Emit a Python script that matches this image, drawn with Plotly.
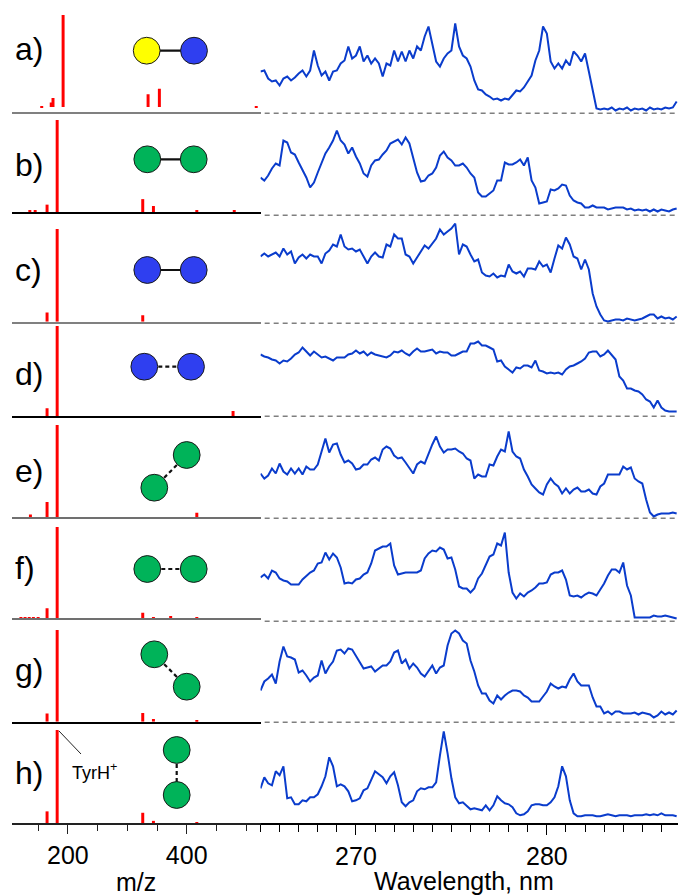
import numpy as np
import plotly.graph_objects as go

# ---------------- data ----------------
panel_labels = ["a)", "b)", "c)", "d)", "e)", "f)", "g)", "h)"]

# mass spectra: m/z and relative intensity (%)
mz_a = [156, 172, 175, 192, 335, 354, 517]
ms_a = [1, 5, 10, 100, 14, 20, 1]
mz_b = [136, 145, 165, 182, 326, 344, 417, 480]
ms_b = [2, 2, 8, 100, 14, 6.5, 2, 2]
mz_c = [165, 182, 326]
ms_c = [10, 100, 7]
mz_d = [165, 182, 478]
ms_d = [9, 100, 6]
mz_e = [137, 165, 182, 417]
ms_e = [3, 16.5, 100, 5]
mz_f = [121, 128, 135, 142, 150, 165, 182, 326, 344, 373, 417]
ms_f = [1.5, 1, 1.5, 1, 1.5, 11, 100, 6, 1, 2.5, 1.5]
mz_g = [165, 182, 326, 344, 417]
ms_g = [9, 100, 9.5, 3, 1.5]
mz_h = [165, 182, 326, 344, 417]
ms_h = [12.5, 100, 11, 2.3, 0.6]

# UV photofragmentation spectra sampled every 0.2 nm (arb. units)
wavelength = np.round(np.arange(265.0, 286.85, 0.2), 1)

uv_a = [42, 43, 35, 32, 33, 28, 35, 37, 33, 36,
        40, 43, 37, 43, 63, 48, 38, 42, 33, 42,
        43, 50, 53, 67, 55, 58, 67, 52, 58, 50,
        55, 50, 37, 50, 48, 63, 52, 62, 52, 63,
        55, 67, 63, 77, 87, 70, 52, 47, 55, 60,
        63, 90, 67, 58, 55, 47, 33, 24, 23, 19,
        17, 14, 15, 13, 15, 14, 18, 23, 22, 26,
        32, 38, 53, 63, 87, 80, 52, 45, 50, 45,
        53, 48, 62, 58, 52, 60, 42, 22, 5, 4,
        5, 4, 6, 3, 5, 4, 6, 3, 5, 4,
        5, 3, 6, 4, 5, 4, 6, 5, 6, 12]
uv_b = [38, 35, 40, 47, 52, 50, 75, 73, 63, 61,
        53, 45, 38, 28, 33, 43, 52, 62, 68, 75,
        85, 75, 71, 62, 68, 59, 52, 42, 39, 50,
        55, 56, 61, 65, 72, 74, 76, 71, 78, 72,
        58, 43, 34, 35, 40, 42, 48, 60, 64, 58,
        55, 50, 50, 52, 48, 42, 38, 23, 19, 19,
        22, 25, 35, 35, 53, 51, 51, 53, 56, 50,
        58, 35, 28, 12, 13, 14, 26, 25, 27, 31,
        30, 20, 15, 13, 12, 8, 8, 10, 8, 8,
        8, 6, 7, 8, 8, 8, 6, 7, 5, 6,
        5, 6, 4, 6, 4, 6, 5, 4, 6, 7]
uv_c = [67, 70, 67, 69, 71, 67, 75, 69, 72, 60,
        66, 69, 65, 69, 67, 67, 60, 70, 73, 79,
        77, 89, 77, 74, 75, 72, 74, 67, 60, 67,
        71, 67, 66, 79, 77, 89, 85, 85, 69, 67,
        60, 66, 72, 78, 75, 80, 85, 94, 89, 92,
        95, 100, 69, 79, 77, 69, 62, 64, 51, 48,
        47, 50, 46, 48, 47, 59, 52, 50, 52, 47,
        55, 55, 54, 62, 57, 59, 51, 65, 78, 75,
        86, 79, 67, 65, 54, 64, 54, 30, 17, 9,
        3, 2, 3, 4, 4, 3, 5, 4, 3, 4,
        5, 7, 9, 9, 5, 7, 5, 6, 4, 7]
uv_d = [62, 60, 59, 57, 56, 53, 56, 55, 58, 62,
        64, 69, 65, 61, 65, 62, 59, 60, 58, 56,
        59, 59, 59, 62, 63, 66, 63, 65, 61, 64,
        62, 61, 60, 59, 61, 65, 64, 66, 63, 61,
        65, 68, 65, 65, 66, 67, 63, 65, 64, 64,
        61, 61, 63, 65, 65, 73, 73, 75, 71, 71,
        69, 67, 55, 56, 50, 47, 44, 49, 48, 51,
        51, 49, 56, 46, 45, 43, 44, 43, 44, 42,
        47, 50, 51, 53, 55, 58, 64, 65, 65, 60,
        62, 66, 62, 57, 40, 36, 28, 28, 26, 25,
        22, 17, 15, 9, 16, 9, 6, 5, 5, 5]
uv_e = [45, 40, 43, 50, 45, 55, 47, 44, 50, 45,
        50, 44, 52, 49, 49, 54, 67, 80, 66, 74,
        75, 64, 56, 58, 55, 49, 50, 54, 54, 59,
        61, 58, 69, 72, 70, 63, 60, 61, 56, 51,
        45, 54, 57, 55, 65, 74, 82, 72, 66, 69,
        69, 70, 67, 65, 60, 58, 40, 44, 42, 42,
        54, 53, 62, 69, 67, 87, 67, 62, 60, 49,
        42, 34, 30, 26, 24, 34, 40, 35, 32, 25,
        30, 25, 29, 31, 27, 27, 29, 25, 24, 32,
        35, 44, 44, 44, 44, 52, 49, 51, 40, 37,
        35, 19, 6, 2, 4, 5, 5, 5, 6, 5]
uv_f = [44, 47, 43, 51, 49, 43, 41, 40, 37, 37,
        37, 42, 46, 49, 51, 58, 59, 69, 62, 68,
        64, 54, 38, 39, 38, 42, 43, 47, 49, 58,
        71, 73, 75, 75, 78, 56, 47, 48, 49, 49,
        49, 49, 51, 63, 68, 71, 70, 74, 72, 63,
        64, 52, 35, 33, 33, 29, 33, 43, 48, 57,
        65, 67, 78, 76, 89, 49, 29, 23, 28, 25,
        29, 31, 34, 38, 38, 39, 47, 49, 49, 51,
        42, 26, 25, 26, 24, 27, 29, 28, 26, 32,
        38, 46, 52, 52, 49, 59, 36, 26, 4, 4,
        4, 4, 4, 6, 5, 5, 6, 5, 4, 3]
uv_g = [32, 41, 44, 48, 39, 61, 76, 66, 65, 63,
        50, 52, 47, 41, 45, 47, 62, 49, 56, 61,
        72, 73, 69, 74, 73, 67, 61, 54, 55, 56,
        51, 54, 57, 57, 61, 70, 72, 59, 63, 54,
        59, 55, 49, 46, 52, 57, 49, 55, 57, 77,
        89, 92, 89, 82, 79, 62, 51, 37, 29, 29,
        22, 19, 27, 23, 27, 30, 32, 32, 31, 27,
        25, 21, 21, 21, 26, 31, 39, 36, 34, 36,
        35, 43, 49, 41, 37, 37, 37, 25, 16, 16,
        9, 11, 8, 11, 11, 9, 9, 9, 10, 8,
        10, 9, 8, 5, 7, 11, 8, 10, 8, 12]
uv_h = [35, 46, 40, 38, 52, 48, 57, 25, 26, 19,
        19, 23, 22, 26, 26, 29, 37, 47, 66, 57,
        37, 39, 37, 32, 22, 23, 25, 33, 35, 43,
        52, 49, 46, 40, 47, 51, 38, 21, 17, 21,
        23, 32, 35, 34, 36, 36, 41, 68, 92, 70,
        45, 26, 20, 21, 17, 14, 15, 14, 13, 18,
        13, 18, 27, 23, 20, 19, 16, 10, 8, 9,
        12, 18, 19, 19, 18, 18, 21, 26, 37, 57,
        47, 23, 10, 7, 7, 8, 8, 8, 7, 7,
        8, 9, 8, 7, 8, 8, 8, 7, 8, 8,
        8, 9, 8, 9, 8, 10, 8, 8, 8, 7]

mass_spectra = [(mz_a, ms_a), (mz_b, ms_b), (mz_c, ms_c), (mz_d, ms_d),
                (mz_e, ms_e), (mz_f, ms_f), (mz_g, ms_g), (mz_h, ms_h)]
uv_spectra = [uv_a, uv_b, uv_c, uv_d, uv_e, uv_f, uv_g, uv_h]

# ---------------- page geometry (pixels) ----------------
W, H = 678, 896


def fx(px):
    return px / W


def fy(py):
    return 1 - py / H


FONT = "Arial, Liberation Sans, sans-serif"
RED = "#ff0000"
BLUE_LINE = "#0a3ccc"

ms_base = [111.7, 212, 321.7, 416.3, 517.3, 618.3, 721.7, 823]
ms_top = [15, 120, 229, 326, 425, 527, 630, 730]
ms_ymin = [-5, 0, 0, 0, 0, 0, 0, 0]
ms_line = [("#808080", 2), ("#000000", 1.5), ("#808080", 2), ("#000000", 1.5),
           ("#707070", 2), ("#707070", 2), ("#000000", 1.5), ("#222222", 1.5)]
uv_base = [113.5, 215.5, 323.5, 416.5, 518.5, 621.5, 722.5, 823.3]
UV_H = 105

label_y = [49, 165, 270, 374, 471, 568, 670, 773]

fig = go.Figure()
layout = dict(
    width=W, height=H, margin=dict(l=0, r=0, t=0, b=0),
    paper_bgcolor="white", plot_bgcolor="rgba(0,0,0,0)",
    showlegend=False, font=dict(family=FONT, color="black"),
)

for i in range(8):
    n_ms = i + 1
    n_uv = i + 9
    mz, inten = mass_spectra[i]
    fig.add_trace(go.Bar(
        x=mz, y=inten, width=5, marker=dict(color=RED, line=dict(width=0)),
        xaxis=f"x{n_ms}", yaxis=f"y{n_ms}", hoverinfo="skip"))
    fig.add_trace(go.Scatter(
        x=wavelength, y=uv_spectra[i], mode="lines",
        line=dict(color=BLUE_LINE, width=2),
        xaxis=f"x{n_uv}", yaxis=f"y{n_uv}", hoverinfo="skip"))

    last = (i == 7)
    lc, lw = ms_line[i]
    xa = dict(domain=[fx(12), fx(261)], range=[106, 525], anchor=f"y{n_ms}",
              showline=True, linecolor=lc, linewidth=lw, showgrid=False,
              zeroline=False, showticklabels=False, ticks="", fixedrange=True)
    if last:
        xa.update(showticklabels=True, ticks="outside", tickvals=[200, 400],
                  ticklen=9, tickwidth=1.3, tickcolor="#222",
                  tickfont=dict(size=25, family=FONT, color="black"),
                  minor=dict(tickvals=[150, 250, 300, 350, 450, 500],
                             ticks="outside", ticklen=6, tickwidth=1.3,
                             tickcolor="#222"))
    ya = dict(domain=[fy(ms_base[i]), fy(ms_top[i])], range=[ms_ymin[i], 100],
              anchor=f"x{n_ms}", visible=False, fixedrange=True)

    xb = dict(domain=[fx(260.5), 1.0], range=[265, 286.87], anchor=f"y{n_uv}",
              showgrid=False, zeroline=False, showticklabels=False,
              showline=False, ticks="", fixedrange=True)
    if last:
        xb.update(showline=True, linecolor="#000", linewidth=1.5,
                  showticklabels=True, ticks="outside", tick0=270, dtick=10,
                  ticklen=10, tickwidth=1.3, tickcolor="#000",
                  tickfont=dict(size=25, family=FONT, color="black"),
                  minor=dict(tick0=265, dtick=1, ticks="outside", ticklen=7,
                             tickwidth=1.3, tickcolor="#000"))
    yb = dict(domain=[fy(uv_base[i]), fy(uv_base[i] - UV_H)], range=[0, UV_H],
              anchor=f"x{n_uv}", visible=False, fixedrange=True)

    sfx = "" if n_ms == 1 else str(n_ms)
    layout[f"xaxis{sfx}"] = xa
    layout[f"yaxis{sfx}"] = ya
    layout[f"xaxis{n_uv}"] = xb
    layout[f"yaxis{n_uv}"] = yb

fig.update_layout(**layout)

# dashed zero lines under the UV spectra
shapes = []
for i in range(7):
    n_uv = i + 9
    shapes.append(dict(type="line", xref=f"x{n_uv} domain", x0=0.01, x1=1,
                       yref=f"y{n_uv}", y0=0, y1=0,
                       line=dict(color="#000000", width=1.6, dash="5px,4px")))

# molecule cartoons: two spheres joined by a bond
YELLOW, BLUE, GREEN = "#ffff00", "#2f3ff0", "#00b359"
R = 13.4
molecules = [
    ((146.7, 50.7), (194.0, 50.7), YELLOW, BLUE, "solid"),
    ((147.3, 159.3), (193.7, 159.3), GREEN, GREEN, "solid"),
    ((147.3, 270.0), (193.7, 270.0), BLUE, BLUE, "solid"),
    ((144.3, 366.7), (191.0, 366.7), BLUE, BLUE, "4px,3px"),
    ((186.7, 455.0), (154.3, 487.7), GREEN, GREEN, "4px,3px"),
    ((147.3, 569.0), (193.7, 569.0), GREEN, GREEN, "4px,3px"),
    ((154.3, 654.3), (186.7, 686.7), GREEN, GREEN, "4px,3px"),
    ((176.7, 750.0), (176.7, 795.0), GREEN, GREEN, "4px,3px"),
]
for (x1, y1), (x2, y2), c1, c2, dash in molecules:
    shapes.append(dict(type="line", xref="paper", yref="paper",
                       x0=fx(x1), y0=fy(y1), x1=fx(x2), y1=fy(y2),
                       line=dict(color="#111", width=2.2, dash=dash)))
    for (cx, cy), col in (((x1, y1), c1), ((x2, y2), c2)):
        shapes.append(dict(type="circle", xref="paper", yref="paper",
                           x0=fx(cx - R), x1=fx(cx + R),
                           y0=fy(cy + R), y1=fy(cy - R),
                           fillcolor=col, line=dict(color="#1a1a1a", width=1)))

# leader line for the TyrH+ label
shapes.append(dict(type="line", xref="paper", yref="paper",
                   x0=fx(59), y0=fy(731), x1=fx(81), y1=fy(754),
                   line=dict(color="#222", width=1)))

annotations = []
for lab, ly in zip(panel_labels, label_y):
    annotations.append(dict(text=lab, xref="paper", yref="paper",
                            x=fx(13), y=fy(ly), xanchor="left", yanchor="middle",
                            showarrow=False, font=dict(size=32, family=FONT)))
annotations.append(dict(text="TyrH<sup>+</sup>", xref="paper", yref="paper",
                        x=fx(94), y=fy(771), xanchor="center", yanchor="middle",
                        showarrow=False, font=dict(size=18, family=FONT)))
annotations.append(dict(text="m/z", xref="paper", yref="paper",
                        x=fx(136), y=fy(882), xanchor="center", yanchor="middle",
                        showarrow=False, font=dict(size=25, family=FONT)))
annotations.append(dict(text="Wavelength, nm", xref="paper", yref="paper",
                        x=fx(464), y=fy(881), xanchor="center", yanchor="middle",
                        showarrow=False, font=dict(size=25, family=FONT)))

fig.update_layout(shapes=shapes, annotations=annotations)

fig.write_html("out.html")
